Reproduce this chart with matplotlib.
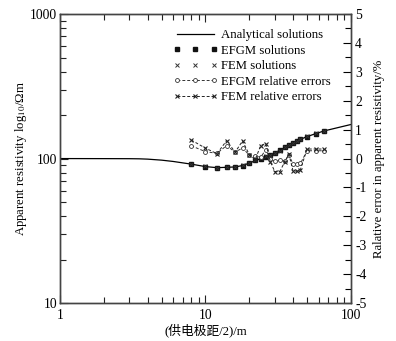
import matplotlib
matplotlib.use('Agg')
import matplotlib.pyplot as plt
from matplotlib.ticker import LogLocator, MultipleLocator, NullFormatter, FixedLocator
import numpy as np

plt.rcParams['font.family'] = ['Liberation Serif', 'Noto Sans CJK SC']
plt.rcParams['mathtext.fontset'] = 'stix'
plt.rcParams['axes.unicode_minus'] = False

# analytical curve
ab2_curve = [1, 2, 3, 3.5, 4, 5, 6, 8, 10, 12, 14, 16, 18, 20, 24, 28, 32.5, 40, 50, 65, 80, 100]
rho_curve = [100, 99.9, 99.8, 99.6, 99.1, 97.5, 95.5, 91.5, 88, 86.5, 87, 87.5, 89.5, 93, 100,
             106, 114, 129, 142, 155, 163, 172]

# numerical solutions
ab2 = [8, 10, 12, 14, 16, 18, 20, 22, 24, 26, 28, 30, 32.5, 35, 37.5, 40, 42.5, 45, 50, 57.5, 65]
rho_efgm = [91.5, 88, 86.5, 87, 87.5, 89.5, 93, 97, 100, 103, 106, 110, 114, 120, 124, 129,
            133, 137, 142, 149, 155]
rho_fem = [91.8, 88.2, 86.6, 87.3, 87.6, 89.8, 93.1, 97, 100.4, 103.5, 106, 109.5, 113.5,
           119.8, 124.2, 128.5, 132.4, 136.5, 142.5, 149.5, 155.5]

# relative errors (%)
err_efgm = [0.44, 0.24, 0.18, 0.45, 0.22, 0.37, 0.12, 0.10, 0.05, 0.30, 0.0, -0.10, -0.05,
            -0.10, 0.12, -0.18, -0.20, -0.17, 0.27, 0.27, 0.27]
err_fem = [0.64, 0.36, 0.17, 0.62, 0.22, 0.61, 0.14, -0.03, 0.45, 0.52, -0.12, -0.45, -0.45,
           -0.12, 0.15, -0.42, -0.44, -0.38, 0.33, 0.33, 0.33]

fig = plt.figure(figsize=(3.96, 3.41), dpi=100)
ax = fig.add_axes([0.1515, 0.111, 0.7345, 0.848])
ax2 = ax.twinx()

fs = 9.2
tfs = 9.8
h1, = ax.plot(ab2_curve, rho_curve, '-', color='black', lw=0.9, label='Analytical solutions')
h2, = ax.plot(ab2, rho_efgm, 's', color='#111111', ms=2.6, ls='none', label='EFGM solutions')
h3, = ax.plot(ab2, rho_fem, 'x', color='#333333', ms=3.2, mew=0.7, ls='none', label='FEM solutions')
h4, = ax2.plot(ab2, err_efgm, '--', marker='o', color='#333333', mfc='white', ms=2.8,
               mew=0.6, lw=0.7, dashes=(3, 2), label='EFGM relative errors')
h5, = ax2.plot(ab2, err_fem, '--', marker='x', color='#222222', ms=3.5, mew=0.8,
               lw=0.7, dashes=(3, 2), label='FEM relative errors')

ax.set_xscale('log')
ax.set_yscale('log')
ax.set_xlim(1, 100)
ax.set_ylim(10, 1000)
ax2.set_ylim(-5, 5)

ax.xaxis.set_major_locator(FixedLocator([1, 10, 100]))
ax.set_xticklabels(['1', '10', '100'])
ax.xaxis.set_minor_locator(LogLocator(base=10, subs=np.arange(2, 10)))
ax.xaxis.set_minor_formatter(NullFormatter())
ax.yaxis.set_major_locator(FixedLocator([10, 100, 1000]))
ax.set_yticklabels(['10', '100', '1000'])
ax.yaxis.set_minor_locator(LogLocator(base=10, subs=np.arange(2, 10)))
ax.yaxis.set_minor_formatter(NullFormatter())
ax2.yaxis.set_major_locator(MultipleLocator(1))
ax2.yaxis.set_minor_locator(MultipleLocator(0.5))

ax.tick_params(which='both', direction='in', top=True, right=False, labelsize=tfs,
               width=0.8, colors='#222222', labelcolor='black', pad=2)
ax.tick_params(axis='x', pad=4)
ax.tick_params(which='major', length=6)
ax.tick_params(which='minor', length=4)
ax2.tick_params(which='both', direction='in', labelsize=tfs, width=0.8, pad=3)
ax2.tick_params(which='major', length=6)
ax2.tick_params(which='minor', length=4)

for a in (ax, ax2):
    for s in a.spines.values():
        s.set_linewidth(1.0)
        s.set_color('#444444')

ax.set_xlabel('(供电极距/2)/m', fontsize=fs, labelpad=1)
ax.set_ylabel(r'Apparent resistivity log$_{10}$/Ωm', fontsize=fs, labelpad=1)
ax2.set_ylabel('Ralative error in apparent resistivity/%', fontsize=fs, labelpad=5)

ax2.legend([h1, h2, h3, h4, h5],
           [h.get_label() for h in (h1, h2, h3, h4, h5)],
           loc='upper left', bbox_to_anchor=(0.37, 0.965), frameon=False, fontsize=fs,
           numpoints=3, handlelength=3.5, handletextpad=0.3, labelspacing=0.27,
           borderaxespad=0)

fig.savefig('out.png', dpi=100)
